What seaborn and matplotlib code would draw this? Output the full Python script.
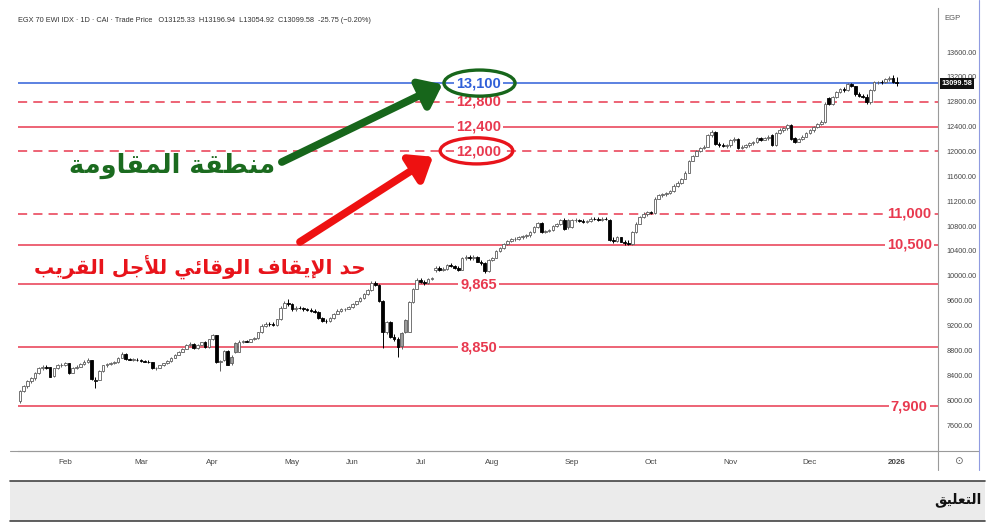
import numpy as np
import pandas as pd
import matplotlib
matplotlib.use("Agg")
import matplotlib.pyplot as plt
import seaborn as sns
from matplotlib.patches import Ellipse, Rectangle
from matplotlib.lines import Line2D

# daily candles (open, high, low, close), one list per month
jan = [(7980, 8170, 7960, 8150), (8150, 8240, 8130, 8220), (8220, 8320, 8200, 8300),
       (8300, 8370, 8280, 8350), (8350, 8450, 8330, 8430), (8430, 8530, 8420, 8510),
       (8510, 8560, 8490, 8530), (8530, 8560, 8500, 8520), (8530, 8540, 8370, 8380),
       (8390, 8520, 8380, 8510), (8510, 8580, 8500, 8560), (8560, 8600, 8540, 8570)]
feb = [(8570, 8610, 8550, 8590), (8590, 8600, 8420, 8440), (8440, 8530, 8430, 8520),
       (8520, 8560, 8500, 8540), (8540, 8600, 8530, 8580), (8580, 8640, 8570, 8620),
       (8620, 8680, 8600, 8640), (8640, 8650, 8320, 8340), (8300, 8370, 8200, 8330),
       (8330, 8480, 8320, 8470), (8470, 8570, 8460, 8560), (8560, 8600, 8540, 8580),
       (8580, 8620, 8560, 8600), (8600, 8630, 8580, 8610), (8610, 8700, 8600, 8680),
       (8680, 8780, 8670, 8740), (8740, 8760, 8640, 8660), (8660, 8680, 8640, 8650),
       (8650, 8670, 8630, 8650), (8650, 8670, 8630, 8640)]
mar = [(8640, 8660, 8620, 8630), (8630, 8650, 8610, 8620), (8620, 8640, 8600, 8610),
       (8610, 8620, 8500, 8510), (8510, 8540, 8490, 8520), (8520, 8570, 8510, 8560),
       (8560, 8600, 8550, 8590), (8590, 8640, 8580, 8630), (8630, 8690, 8620, 8680),
       (8680, 8740, 8670, 8730), (8730, 8790, 8720, 8780), (8780, 8840, 8770, 8830),
       (8830, 8900, 8820, 8880), (8880, 8940, 8870, 8910), (8910, 8920, 8820, 8840),
       (8840, 8900, 8830, 8890), (8890, 8940, 8880, 8930), (8930, 8950, 8840, 8850),
       (8850, 8990, 8840, 8980)]
apr = [(8980, 9060, 8960, 9040), (9040, 9050, 8600, 8620), (8620, 8650, 8470, 8630),
       (8640, 8810, 8630, 8790), (8790, 8800, 8560, 8570), (8700, 8720, 8570, 8600),
       (8920, 8940, 8760, 8780), (8780, 8960, 8770, 8940), (8940, 8970, 8920, 8950),
       (8950, 8970, 8930, 8940), (8940, 8990, 8930, 8980), (8980, 9010, 8960, 9000),
       (9000, 9100, 8990, 9090), (9090, 9220, 9080, 9200), (9200, 9250, 9180, 9230),
       (9230, 9260, 9200, 9220), (9220, 9250, 9190, 9210), (9210, 9310, 9200, 9300),
       (9300, 9510, 9290, 9490), (9490, 9600, 9480, 9570), (9570, 9620, 9520, 9540)]
may = [(9540, 9560, 9440, 9460), (9460, 9510, 9440, 9490), (9490, 9520, 9460, 9480),
       (9480, 9500, 9440, 9460), (9460, 9490, 9430, 9450), (9450, 9480, 9420, 9440),
       (9440, 9460, 9400, 9420), (9420, 9430, 9310, 9320), (9320, 9340, 9260, 9280),
       (9280, 9300, 9240, 9270), (9270, 9340, 9260, 9320), (9320, 9400, 9310, 9390),
       (9390, 9460, 9380, 9440), (9440, 9480, 9420, 9460), (9460, 9490, 9440, 9470),
       (9470, 9520, 9460, 9500)]
jun = [(9500, 9560, 9490, 9540), (9540, 9600, 9530, 9590), (9590, 9660, 9580, 9640),
       (9640, 9720, 9630, 9700), (9700, 9790, 9690, 9770), (9770, 9910, 9760, 9880),
       (9880, 9920, 9840, 9860), (9860, 9870, 9580, 9600), (9600, 9610, 8840, 9090),
       (9090, 9280, 9060, 9260), (9260, 9270, 9000, 9020), (9020, 9060, 8950, 8980),
       (8980, 9010, 8690, 8850), (9080, 9100, 8830, 8870), (9290, 9300, 9080, 9100),
       (9100, 9590, 9090, 9580), (9580, 9810, 9570, 9790), (9790, 9960, 9780, 9930)]
jul = [(9930, 9970, 9890, 9900), (9900, 9940, 9860, 9880), (9880, 9960, 9870, 9950),
       (9950, 9980, 9930, 9960), (10090, 10160, 10060, 10130), (10130, 10150, 10080, 10100),
       (10100, 10140, 10080, 10110), (10110, 10190, 10100, 10170), (10170, 10210, 10140, 10160),
       (10160, 10180, 10110, 10120), (10120, 10150, 10080, 10100), (10100, 10300, 10090, 10280),
       (10280, 10330, 10250, 10300), (10300, 10330, 10260, 10280), (10280, 10330, 10250, 10300),
       (10300, 10320, 10220, 10230), (10230, 10260, 10180, 10200), (10200, 10220, 10050, 10070),
       (10070, 10270, 10060, 10250)]
aug = [(10250, 10310, 10240, 10290), (10290, 10420, 10280, 10400), (10400, 10460, 10380, 10440),
       (10440, 10530, 10430, 10510), (10510, 10580, 10500, 10560), (10560, 10610, 10540, 10590),
       (10590, 10620, 10560, 10600), (10600, 10640, 10580, 10620), (10620, 10660, 10600, 10640),
       (10640, 10680, 10610, 10650), (10650, 10720, 10630, 10700), (10700, 10800, 10690, 10780),
       (10780, 10870, 10770, 10850), (10850, 10870, 10690, 10710), (10710, 10740, 10690, 10720),
       (10720, 10750, 10700, 10730), (10730, 10820, 10720, 10800), (10800, 10850, 10780, 10830),
       (10830, 10920, 10820, 10900), (10900, 10930, 10740, 10750), (10900, 10920, 10760, 10780)]
sep = [(10780, 10910, 10770, 10890), (10890, 10930, 10860, 10900), (10900, 10920, 10860, 10880),
       (10880, 10910, 10850, 10870), (10870, 10900, 10850, 10880), (10880, 10940, 10870, 10920),
       (10920, 10950, 10890, 10910), (10910, 10940, 10880, 10900), (10900, 10940, 10880, 10920),
       (10920, 10950, 10890, 10910), (10900, 10920, 10560, 10580), (10580, 10620, 10530, 10560),
       (10560, 10640, 10550, 10620), (10620, 10630, 10540, 10550), (10550, 10570, 10500, 10520),
       (10520, 10580, 10500, 10510), (10510, 10720, 10500, 10700), (10700, 10860, 10690, 10840),
       (10840, 10960, 10830, 10940), (10940, 11030, 10930, 11000), (11000, 11040, 10970, 11020)]
oct_ = [(11020, 11050, 10990, 11010), (11010, 11260, 11000, 11240), (11240, 11320, 11230, 11300),
        (11300, 11340, 11270, 11310), (11310, 11350, 11290, 11330), (11330, 11380, 11310, 11360),
        (11360, 11470, 11350, 11450), (11450, 11520, 11430, 11500), (11500, 11580, 11480, 11560),
        (11560, 11680, 11550, 11660), (11660, 11870, 11650, 11850), (11850, 11950, 11840, 11930),
        (11930, 12030, 11920, 12010), (12010, 12080, 11990, 12060), (12060, 12100, 12040, 12080),
        (12080, 12280, 12070, 12260), (12260, 12340, 12240, 12310), (12310, 12330, 12100, 12120),
        (12120, 12150, 12080, 12100), (12100, 12140, 12070, 12090), (12090, 12120, 12060, 12100)]
nov = [(12100, 12200, 12080, 12180), (12180, 12230, 12150, 12200), (12200, 12210, 12040, 12060),
       (12060, 12100, 12040, 12080), (12080, 12120, 12060, 12100), (12100, 12150, 12080, 12130),
       (12130, 12170, 12110, 12150), (12150, 12230, 12140, 12210), (12210, 12240, 12170, 12190),
       (12190, 12240, 12180, 12220), (12220, 12260, 12190, 12230), (12260, 12280, 12090, 12100),
       (12100, 12310, 12090, 12290), (12290, 12370, 12280, 12340), (12340, 12390, 12310, 12370),
       (12370, 12450, 12350, 12420), (12420, 12440, 12180, 12200), (12220, 12240, 12140, 12160),
       (12160, 12220, 12150, 12200), (12200, 12260, 12190, 12240), (12240, 12320, 12230, 12300)]
dec = [(12300, 12360, 12280, 12340), (12340, 12410, 12320, 12390), (12390, 12460, 12370, 12440),
       (12440, 12500, 12420, 12470), (12470, 12790, 12460, 12770), (12860, 12880, 12740, 12760),
       (12760, 12890, 12750, 12870), (12870, 12970, 12860, 12950), (12950, 13020, 12940, 13000),
       (13000, 13040, 12960, 12990), (12990, 13100, 12980, 13080), (13080, 13100, 13030, 13050),
       (13050, 13060, 12900, 12920), (12920, 12950, 12870, 12890), (12890, 12920, 12860, 12880),
       (12880, 12920, 12760, 12800), (12800, 13000, 12770, 12990), (12990, 13130, 12980, 13110),
       (13110, 13140, 13080, 13120), (13120, 13150, 13090, 13110), (13110, 13180, 13100, 13160),
       (13160, 13220, 13140, 13190), (13190, 13230, 13100, 13125)]
jan26 = [(13125.33, 13196.94, 13054.92, 13099.58)]

months = [jan, feb, mar, apr, may, jun, jul, aug, sep, oct_, nov, dec, jan26]
month_labels = ["Feb", "Mar", "Apr", "May", "Jun", "Jul", "Aug", "Sep", "Oct", "Nov", "Dec", "2026"]

# support / resistance levels
level_values = [13100, 12800, 12400, 12000, 11000, 10500, 9865, 8850, 7900]
level_texts = ["13,100", "12,800", "12,400", "12,000", "11,000", "10,500", "9,865", "8,850", "7,900"]
level_dashed = [False, True, False, True, True, False, False, False, False]
level_at_right = [False, False, False, False, True, True, False, False, True]

header = ("EGX 70 EWI IDX \u00b7 1D \u00b7 CAI \u00b7 Trade Price   O13125.33  H13196.94  "
          "L13054.92  C13099.58  -25.75 (\u22120.20%)")
resist_text = "منطقة المقاومة"
stop_text = "حد الإيقاف الوقائي للأجل القريب"
comment_text = "التعليق"

# --- minimal arabic shaping (matplotlib has no complex text layout) ---
FORMS = {
    'ا': ('\uFE8D', '\uFE8E', None, None), 'أ': ('\uFE83', '\uFE84', None, None),
    'إ': ('\uFE87', '\uFE88', None, None), 'ب': ('\uFE8F', '\uFE90', '\uFE91', '\uFE92'),
    'ة': ('\uFE93', '\uFE94', None, None), 'ت': ('\uFE95', '\uFE96', '\uFE97', '\uFE98'),
    'ج': ('\uFE9D', '\uFE9E', '\uFE9F', '\uFEA0'), 'ح': ('\uFEA1', '\uFEA2', '\uFEA3', '\uFEA4'),
    'د': ('\uFEA9', '\uFEAA', None, None), 'ر': ('\uFEAD', '\uFEAE', None, None),
    'ط': ('\uFEC1', '\uFEC2', '\uFEC3', '\uFEC4'), 'ع': ('\uFEC9', '\uFECA', '\uFECB', '\uFECC'),
    'ف': ('\uFED1', '\uFED2', '\uFED3', '\uFED4'), 'ق': ('\uFED5', '\uFED6', '\uFED7', '\uFED8'),
    'ل': ('\uFEDD', '\uFEDE', '\uFEDF', '\uFEE0'), 'م': ('\uFEE1', '\uFEE2', '\uFEE3', '\uFEE4'),
    'ن': ('\uFEE5', '\uFEE6', '\uFEE7', '\uFEE8'), 'و': ('\uFEED', '\uFEEE', None, None),
    'ي': ('\uFEF1', '\uFEF2', '\uFEF3', '\uFEF4'), 'ئ': ('\uFE89', '\uFE8A', '\uFE8B', '\uFE8C'),
    'لا': ('\uFEFB', '\uFEFC', None, None), 'لأ': ('\uFEF7', '\uFEF8', None, None),
    'لإ': ('\uFEF9', '\uFEFA', None, None),
}


def shape(text):
    units, i = [], 0
    while i < len(text):
        if text[i] == 'ل' and text[i:i + 2] in FORMS and len(text[i:i + 2]) == 2:
            units.append(text[i:i + 2])
            i += 2
        else:
            units.append(text[i])
            i += 1
    out = []
    for k, u in enumerate(units):
        if u not in FORMS:
            out.append(u)
            continue
        prev = units[k - 1] if k > 0 else None
        nxt = units[k + 1] if k + 1 < len(units) else None
        jp = prev in FORMS and FORMS[prev][2] is not None
        jn = FORMS[u][2] is not None and nxt in FORMS
        iso, fin, ini, med = FORMS[u]
        out.append(med if (jp and jn) else fin if jp else ini if jn else iso)
    return ''.join(reversed(out))


sns.set_theme(style="white")
plt.rcParams['font.family'] = ['Liberation Sans', 'DejaVu Sans']

rows = [c for m in months for c in m]
df = pd.DataFrame(rows, columns=["o", "h", "l", "c"])
df["prev"] = df["c"].shift(1).fillna(df["o"])
up_col, dn_col = "#5e5e5e", "#000000"
df["col"] = np.where(df["c"] >= df["prev"], up_col, dn_col)
df["fill"] = np.where(df["c"] >= df["o"], "white", np.where(df["c"] >= df["prev"], "#9a9a9a", dn_col))
starts = np.cumsum([0] + [len(m) for m in months])[1:-1]

W, H = 996, 525
fig = plt.figure(figsize=(W / 100, H / 100), dpi=100)
fig.patch.set_facecolor("white")
ax = fig.add_axes([18 / W, 1 - 451 / H, 920 / W, 443 / H])
ax.set_facecolor("white")

red = "#e8394f"
for v, t, dsh, rgt in zip(level_values, level_texts, level_dashed, level_at_right):
    col = "#2f5fd8" if v == 13100 else red
    ax.axhline(v, color=col, lw=1.1, ls=(0, (6, 4)) if dsh else "-", zorder=1)
    xpos = 235.3 if rgt else 121.3
    ax.text(xpos, v, t, color=col, fontsize=10.5, fontweight="bold", ha="center",
            va="center", zorder=4,
            bbox=dict(facecolor="white", edgecolor="none", pad=1.5))

# candles
ax.vlines(df.index, df["l"], df["h"], colors=df["col"], lw=0.7, zorder=2)
ax.bar(df.index, (df["c"] - df["o"]).abs().clip(lower=8), bottom=df[["o", "c"]].min(axis=1),
       width=0.7, color=df["fill"], edgecolor=df["col"], linewidth=0.6, zorder=3)

ax.set_xlim(-0.5, 242.9)
ax.set_ylim(7182, 14308)
ax.yaxis.tick_right()
ticks = list(range(7600, 13601, 400))
ax.set_yticks(ticks)
ax.set_yticklabels([f"{t:.2f}" for t in ticks], fontsize=5.2, color="#444444")
ax.set_xticks(starts)
ax.set_xticklabels(month_labels, fontsize=5.8, color="#444444")
for lab in ax.get_xticklabels():
    if lab.get_text() == "2026":
        lab.set_fontweight("bold")
ax.tick_params(axis="both", length=0, pad=6)
for s in ["top", "left"]:
    ax.spines[s].set_visible(False)
ax.spines["right"].set_color("#9a9a9a")
ax.spines["bottom"].set_color("#9a9a9a")
ax.spines["right"].set_linewidth(0.8)
ax.spines["bottom"].set_linewidth(0.8)

# ellipses and arrows
ax.add_patch(Ellipse((121.6, 13100), 18.8, 420, fill=False, edgecolor="#17661b", lw=2.4, zorder=5))
ax.add_patch(Ellipse((120.8, 12010), 19.2, 420, fill=False, edgecolor="#e8141b", lw=2.4, zorder=5))
ax.annotate("", xy=(111.8, 13080), xytext=(69.3, 11830),
            arrowprops=dict(arrowstyle="-|>,head_length=0.9,head_width=0.7", lw=5.5,
                            color="#17661b", shrinkA=0, shrinkB=0, mutation_scale=14), zorder=5)
ax.annotate("", xy=(109.3, 11915), xytext=(74.1, 10545),
            arrowprops=dict(arrowstyle="-|>,head_length=0.9,head_width=0.7", lw=5.5,
                            color="#ee1111", shrinkA=0, shrinkB=0, mutation_scale=14), zorder=5)
ax.text(40.3, 11760, shape(resist_text), family="DejaVu Sans", fontweight="bold",
        fontsize=18.5, color="#1b6b1f", ha="center", va="center", zorder=5)
ax.text(47.6, 10150, shape(stop_text), family="DejaVu Sans", fontweight="bold",
        fontsize=14.5, color="#e8141b", ha="center", va="center", zorder=5)

# price tag on axis
ax.text(1.004, 13099.58, "13099.58", transform=ax.get_yaxis_transform(), fontsize=5.3,
        color="white", fontweight="bold", ha="left", va="center", clip_on=False, zorder=6,
        bbox=dict(facecolor="#111111", edgecolor="none", pad=1.4))

# header, frame and footer
fig.text(18 / W, 1 - 20 / H, header, fontsize=5.3, color="#333333", va="center")
fig.text(944 / W, 1 - 19 / H, "EGP", fontsize=5.5, color="#555555", va="center")
fig.text(958 / W, 1 - 461 / H, "\u2299", fontsize=7.5, color="#666666", va="center",
         ha="center", family="DejaVu Sans")
fig.add_artist(Line2D([10 / W, 979 / W], [1 - 451 / H] * 2, color="#9a9a9a", lw=0.8))
fig.add_artist(Line2D([938 / W] * 2, [1 - 470 / H, 1 - 451 / H], color="#9a9a9a", lw=0.8))
fig.add_artist(Line2D([979 / W] * 2, [1 - 470 / H, 1.0], color="#8f9be0", lw=0.8))
fig.add_artist(Rectangle((10 / W, 1 - 521 / H), 975 / W, 40 / H, transform=fig.transFigure,
                         facecolor="#ebebeb", edgecolor="none"))
fig.add_artist(Line2D([10 / W, 985 / W], [1 - 481 / H] * 2, color="#444444", lw=1.2))
fig.add_artist(Line2D([10 / W, 985 / W], [1 - 521 / H] * 2, color="#444444", lw=1.2))
fig.text(982 / W, 1 - 500 / H, shape(comment_text), family="DejaVu Sans", fontweight="bold",
         fontsize=10, color="#111111", ha="right", va="center")

fig.savefig("out.png", dpi=100)
